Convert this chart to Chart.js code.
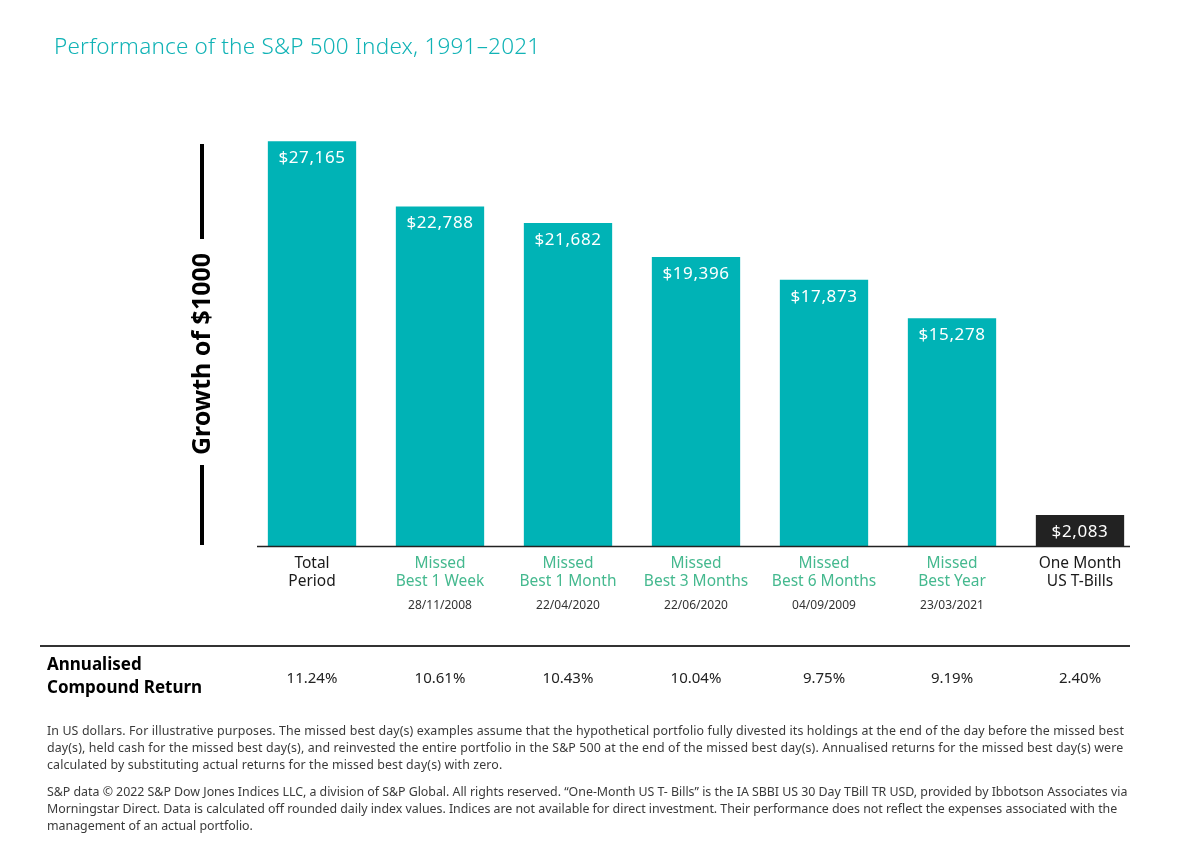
<!DOCTYPE html>
<html>
<head>
<meta charset="utf-8">
<script src="https://cdn.jsdelivr.net/npm/chart.js@4"></script>
<style>
  body { margin: 0; background: #fff; font-family: "Noto Sans", sans-serif; }
  #wrap { position: relative; width: 1200px; height: 855px; overflow: hidden; }
  #graph { position: absolute; left: 0; top: 0; }
  .titre { position: absolute; left: 54px; top: 30px; font-size: 22.5px; font-weight: 300; color: #12b3b6; letter-spacing: 0.2px; }
  .notes { position: absolute; left: 47px; font-size: 12.4px; line-height: 17px; color: #3a3a3a; white-space: nowrap; }
</style>
</head>
<body>
<div id="wrap">
  <canvas id="graph" width="1200" height="855"></canvas>
  <div class="titre">Performance of the S&amp;P 500 Index, 1991–2021</div>
  <div class="notes" style="top:722px; letter-spacing:0.12px">In US dollars. For illustrative purposes. The missed best day(s) examples assume that the hypothetical portfolio fully divested its holdings at the end of the day before the missed best<br>day(s), held cash for the missed best day(s), and reinvested the entire portfolio in the S&amp;P 500 at the end of the missed best day(s). Annualised returns for the missed best day(s) were<br>calculated by substituting actual returns for the missed best day(s) with zero.</div>
  <div class="notes" style="top:783px; letter-spacing:-0.02px">S&amp;P data © 2022 S&amp;P Dow Jones Indices LLC, a division of S&amp;P Global. All rights reserved. “One-Month US T- Bills” is the IA SBBI US 30 Day TBill TR USD, provided by Ibbotson Associates via<br>Morningstar Direct. Data is calculated off rounded daily index values. Indices are not available for direct investment. Their performance does not reflect the expenses associated with the<br>management of an actual portfolio.</div>
</div>
<script>
// donnees du graphique
const categories = [
  ['Total', 'Period'],
  ['Missed', 'Best 1 Week'],
  ['Missed', 'Best 1 Month'],
  ['Missed', 'Best 3 Months'],
  ['Missed', 'Best 6 Months'],
  ['Missed', 'Best Year'],
  ['One Month', 'US T-Bills']
];
const valeurs = [27165, 22788, 21682, 19396, 17873, 15278, 2083];
const dates = ['', '28/11/2008', '22/04/2020', '22/06/2020', '04/09/2009', '23/03/2021', ''];
const rendements = ['11.24%', '10.61%', '10.43%', '10.04%', '9.75%', '9.19%', '2.40%'];

const teal = '#00b3b6';
const vert = '#45b98f';
const noir = '#222222';
const police = '"Noto Sans", sans-serif';

// labels dans les barres + dates + ligne des rendements
const extras = {
  id: 'extras',
  afterDatasetsDraw(chart) {
    const c = chart.ctx;
    const meta = chart.getDatasetMeta(0);
    const x = chart.scales.x;
    c.save();
    c.textAlign = 'center';
    c.textBaseline = 'middle';
    c.fillStyle = '#fff';
    c.font = '17px ' + police;
    c.letterSpacing = '0.6px';
    meta.data.forEach((bar, i) => {
      c.fillText('$' + valeurs[i].toLocaleString('en-US'), bar.x, bar.y + 17);
    });
    c.letterSpacing = '0px';

    // ligne de base
    const base = chart.scales.y.getPixelForValue(0);
    c.strokeStyle = '#222';
    c.lineWidth = 1.5;
    c.beginPath();
    c.moveTo(chart.chartArea.left + 9, base + 0.5);
    c.lineTo(chart.chartArea.right - 14, base + 0.5);
    c.stroke();

    // dates
    c.fillStyle = '#333';
    c.font = '12px ' + police;
    dates.forEach((d, i) => {
      if (d) c.fillText(d, x.getPixelForValue(i), 606);
    });

    // separateur
    c.strokeStyle = '#333';
    c.lineWidth = 2;
    c.beginPath();
    c.moveTo(40, 646);
    c.lineTo(1130, 646);
    c.stroke();

    c.fillStyle = '#222';
    c.font = '15px ' + police;
    rendements.forEach((r, i) => {
      c.fillText(r, x.getPixelForValue(i), 679);
    });

    c.textAlign = 'left';
    c.fillStyle = '#000';
    c.font = 'bold 17px ' + police;
    c.fillText('Annualised', 47, 665);
    c.fillText('Compound Return', 47, 688);

    // titre axe vertical
    c.strokeStyle = '#000';
    c.lineWidth = 4;
    c.beginPath();
    c.moveTo(202, 144);
    c.lineTo(202, 239);
    c.moveTo(202, 465);
    c.lineTo(202, 545);
    c.stroke();
    c.translate(203, 354);
    c.rotate(-Math.PI / 2);
    c.textAlign = 'center';
    c.font = 'bold 25px ' + police;
    c.fillText('Growth of $1000', 0, 0);
    c.restore();
  }
};

new Chart(document.getElementById('graph'), {
  type: 'bar',
  data: {
    labels: categories,
    datasets: [{
      data: valeurs,
      backgroundColor: valeurs.map((v, i) => i === valeurs.length - 1 ? noir : teal),
      categoryPercentage: 1,
      barPercentage: 0.69
    }]
  },
  options: {
    responsive: false,
    animation: false,
    layout: { padding: { left: 248, right: 56, top: 99, bottom: 0 } },
    plugins: { legend: { display: false }, tooltip: { enabled: false } },
    scales: {
      x: {
        grid: { display: false },
        border: { display: false },
        ticks: {
          padding: 0,
          font: { family: police, size: 15.5, lineHeight: 1.2 },
          color: (ctx) => (ctx.index === 0 || ctx.index === 6) ? '#1a1a1a' : vert
        },
        afterFit(scale) { scale.height = 309; }
      },
      y: {
        display: false,
        min: 0,
        max: 30000
      }
    }
  },
  plugins: [extras]
});
</script>
</body>
</html>
